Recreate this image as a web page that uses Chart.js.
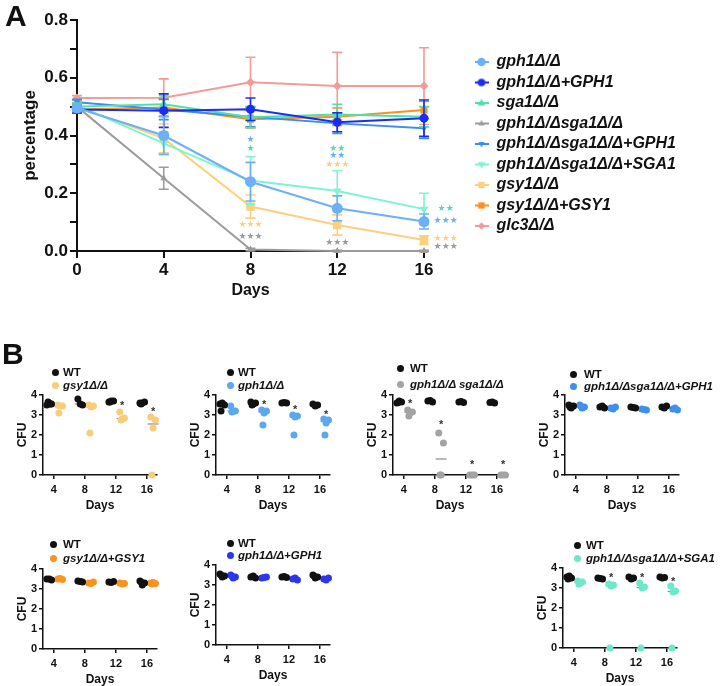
<!DOCTYPE html>
<html>
<head>
<meta charset="utf-8">
<script src="https://cdn.jsdelivr.net/npm/chart.js@4.4.1/dist/chart.umd.min.js"></script>
<style>
  html, body { margin: 0; padding: 0; background: #fff; overflow: hidden; }
  body { position: relative; width: 720px; height: 686px; font-family: "Liberation Sans", Arial, sans-serif; color: #111; }
  canvas { position: absolute; }
  .panel { position: absolute; font-size: 30px; font-weight: bold; line-height: 30px; }
  .key { position: absolute; font-size: 11.5px; font-weight: bold; line-height: 14px; white-space: nowrap; }
  .key.mut { font-style: italic; }
  .dot { position: absolute; width: 7px; height: 7px; border-radius: 50%; }
</style>
</head>
<body>
<canvas id="chartA" width="720" height="305" style="left:0;top:0"></canvas>
<canvas id="b1" width="175" height="135" style="left:0;top:385px"></canvas>
<canvas id="b2" width="175" height="135" style="left:173px;top:385px"></canvas>
<canvas id="b3" width="175" height="135" style="left:350px;top:385px"></canvas>
<canvas id="b4" width="175" height="135" style="left:522px;top:385px"></canvas>
<canvas id="b5" width="175" height="135" style="left:0;top:559px"></canvas>
<canvas id="b6" width="175" height="135" style="left:173px;top:555px"></canvas>
<canvas id="b7" width="175" height="135" style="left:520px;top:558px"></canvas>
<div class="panel" style="left:5px;top:1px">A</div>
<div class="panel" style="left:2px;top:339px">B</div>
<div id="keys"></div>
<script>
Chart.defaults.font.family = '"Liberation Sans", Arial, sans-serif';
Chart.defaults.color = '#111';

// ---- panel A: glycogen percentage over time ----
const days = [0, 4, 8, 12, 16];
const strainLabels = ['gph1Δ/Δ', 'gph1Δ/Δ+GPH1', 'sga1Δ/Δ', 'gph1Δ/Δsga1Δ/Δ', 'gph1Δ/Δsga1Δ/Δ+GPH1',
                      'gph1Δ/Δsga1Δ/Δ+SGA1', 'gsy1Δ/Δ', 'gsy1Δ/Δ+GSY1', 'glc3Δ/Δ'];
const gph1Pct     = [0.495, 0.400, 0.240, 0.148, 0.102];
const gph1Sem     = [0.012, 0.065, 0.067, 0.043, 0.026];
const gph1GPH1Pct = [0.490, 0.486, 0.491, 0.446, 0.460];
const gph1GPH1Sem = [0.012, 0.058, 0.039, 0.033, 0.063];
const sga1Pct     = [0.500, 0.508, 0.463, 0.473, 0.465];
const sga1Sem     = [0.012, 0.030, 0.036, 0.035, 0.035];
const dblPct      = [0.500, 0.252, 0.005, 0.000, 0.000];
const dblSem      = [0.010, 0.038, 0.004, 0.002, 0.002];
const dblGPH1Pct  = [0.515, 0.490, 0.465, 0.442, 0.425];
const dblGPH1Sem  = [0.010, 0.035, 0.035, 0.035, 0.035];
const dblSGA1Pct  = [0.505, 0.373, 0.244, 0.208, 0.145];
const dblSGA1Sem  = [0.010, 0.040, 0.083, 0.070, 0.055];
const gsy1Pct     = [0.500, 0.390, 0.154, 0.090, 0.038];
const gsy1Sem     = [0.010, 0.050, 0.040, 0.035, 0.015];
const gsy1GSY1Pct = [0.490, 0.497, 0.456, 0.465, 0.488];
const gsy1GSY1Sem = [0.012, 0.030, 0.030, 0.030, 0.030];
const glc3Pct     = [0.530, 0.531, 0.584, 0.571, 0.571];
const glc3Sem     = [0.008, 0.065, 0.087, 0.117, 0.133];

// significance marks: day, value, text, series index (for colour)
const sigA = [
  [8, 0.384, '★', 0], [8, 0.353, '★', 2], [8, 0.090, '★★★', 6], [8, 0.048, '★★★', 3],
  [12, 0.353, '★★', 2], [12, 0.329, '★★', 0], [12, 0.300, '★★★', 6], [12, 0.028, '★★★', 3],
  [17, 0.145, '★★', 2], [17, 0.104, '★★★', 0], [17, 0.042, '★★★', 6], [17, 0.014, '★★★', 3],
];

const seriesA = [
  [gph1Pct, gph1Sem], [gph1GPH1Pct, gph1GPH1Sem], [sga1Pct, sga1Sem], [dblPct, dblSem],
  [dblGPH1Pct, dblGPH1Sem], [dblSGA1Pct, dblSGA1Sem], [gsy1Pct, gsy1Sem],
  [gsy1GSY1Pct, gsy1GSY1Sem], [glc3Pct, glc3Sem],
];
const seriesStyle = [
  { color: '#6cb0f5', point: 'circle',   radius: 5.5, rot: 0 },
  { color: '#1b2df2', point: 'circle',   radius: 4.5, rot: 0 },
  { color: '#4ee0a9', point: 'triangle', radius: 5,   rot: 0 },
  { color: '#9b9b9b', point: 'triangle', radius: 4,   rot: 0 },
  { color: '#3b8ef0', point: 'triangle', radius: 4,   rot: 180 },
  { color: '#7ff3d3', point: 'triangle', radius: 5,   rot: 180 },
  { color: '#fbd07f', point: 'rect',     radius: 6,   rot: 0 },
  { color: '#f7921d', point: 'rect',     radius: 5,   rot: 0 },
  { color: '#f49b98', point: 'rectRot',  radius: 4.5, rot: 0 },
];

// ---- panel B: CFU per replicate ----
const bDays = [4, 8, 12, 16];
const wtGsy1      = [[3.5, 3.55, 3.6, 3.65, 3.55], [3.8, 3.5, 3.55], [3.65, 3.7, 3.7, 3.65], [3.6, 3.65, 3.6, 3.55]];
const gsy1Cfu     = [[3.5, 3.45, 3.45, 3.1], [3.5, 3.45, 3.4, 2.1], [3.15, 2.85, 2.8, 2.75], [2.9, 2.75, 2.35, 0]];
const wtGph1      = [[3.55, 3.5, 3.6, 3.2], [3.65, 3.6, 3.55, 3.5], [3.6, 3.6, 3.62], [3.55, 3.5, 3.45]];
const gph1Cfu     = [[3.45, 3.2, 3.2, 3.15], [3.25, 3.2, 3.1, 2.5], [3.0, 2.95, 2.9, 2.0], [2.8, 2.75, 2.6, 2.0]];
const wtDbl       = [[3.6, 3.65, 3.7, 3.62], [3.7, 3.65, 3.72], [3.65, 3.62, 3.68], [3.62, 3.6, 3.65]];
const dblCfu      = [[3.25, 3.15, 3.1, 2.95], [2.1, 1.6, 0, 0], [0, 0, 0], [0, 0, 0]];
const wtDblGPH1   = [[3.5, 3.45, 3.35, 3.4], [3.4, 3.35, 3.45], [3.4, 3.35, 3.38], [3.4, 3.45, 3.35]];
const dblGPH1Cfu  = [[3.5, 3.4, 3.35, 3.45], [3.35, 3.4, 3.3], [3.3, 3.25, 3.28], [3.3, 3.25, 3.35]];
const wtGsy1GSY1  = [[3.5, 3.45, 3.5], [3.4, 3.35, 3.38], [3.35, 3.38, 3.32], [3.4, 3.3, 3.2, 3.35]];
const gsy1GSY1Cfu = [[3.5, 3.48, 3.52], [3.3, 3.35, 3.28], [3.3, 3.28, 3.25], [3.3, 3.28, 3.32, 3.25]];
const wtGph1GPH1  = [[3.55, 3.45, 3.4, 3.5], [3.4, 3.35, 3.45], [3.4, 3.38, 3.42], [3.5, 3.4, 3.35, 3.45]];
const gph1GPH1Cfu = [[3.5, 3.4, 3.35, 3.45], [3.35, 3.4, 3.38], [3.3, 3.25, 3.35], [3.3, 3.35, 3.25]];
const wtDblSGA1   = [[3.55, 3.5, 3.6, 3.45], [3.5, 3.45, 3.48], [3.55, 3.5, 3.45], [3.55, 3.52, 3.5]];
const dblSGA1Cfu  = [[3.35, 3.3, 3.25, 3.2], [3.2, 3.15, 3.1, 0], [3.25, 3.05, 3.0, 0], [3.1, 2.85, 2.8, 0]];
// asterisks above mutant columns: [day, value]
const starsGsy1 = [[12, 3.57], [16, 3.27]];
const starsGph1 = [[8, 3.65], [12, 3.4], [16, 3.15]];
const starsDbl  = [[4, 3.7], [8, 2.62], [12, 0.65], [16, 0.65]];
const starsDblSGA1 = [[8, 3.62], [12, 3.62], [16, 3.42]];

const WT_SHIFT = -0.6, MUT_SHIFT = 0.8;
const JITTER = [-0.3, 0.3, 0, -0.15, 0.15];

// ---- helpers / plugins ----
function drawShape(ctx, style, r, x, y, rot) {
  ctx.beginPath();
  if (style === 'circle') {
    ctx.arc(x, y, r, 0, Math.PI * 2);
  } else if (style === 'triangle') {
    const s = rot ? -1 : 1;
    ctx.moveTo(x, y - s * r);
    ctx.lineTo(x + r * 0.9, y + s * r * 0.6);
    ctx.lineTo(x - r * 0.9, y + s * r * 0.6);
    ctx.closePath();
  } else if (style === 'rect') {
    ctx.rect(x - r * 0.75, y - r * 0.75, r * 1.5, r * 1.5);
  } else {
    ctx.moveTo(x, y - r); ctx.lineTo(x + r, y); ctx.lineTo(x, y + r); ctx.lineTo(x - r, y);
    ctx.closePath();
  }
  ctx.fill();
}

function legendIcon(st) {
  const c = document.createElement('canvas');
  c.width = 14; c.height = 12;
  const ctx = c.getContext('2d');
  ctx.strokeStyle = st.color; ctx.fillStyle = st.color; ctx.lineWidth = 2;
  ctx.beginPath(); ctx.moveTo(0, 6); ctx.lineTo(14, 6); ctx.stroke();
  drawShape(ctx, st.point, Math.min(st.radius, 5) * 0.85, 7, 6, st.rot);
  return c;
}
const legendIcons = seriesStyle.map(legendIcon);

const errorBars = {
  id: 'errorBars',
  beforeDatasetDraw(chart, args) {
    const ds = chart.data.datasets[args.index];
    if (!ds.errors) return;
    const { ctx, scales: { y } } = chart;
    ctx.save();
    ctx.strokeStyle = ds.borderColor;
    ctx.lineWidth = 1.6;
    args.meta.data.forEach((pt, i) => {
      const v = ds.data[i].y, e = ds.errors[i];
      const top = y.getPixelForValue(v + e), bot = y.getPixelForValue(v - e);
      ctx.beginPath();
      ctx.moveTo(pt.x, top); ctx.lineTo(pt.x, bot);
      ctx.moveTo(pt.x - 5, top); ctx.lineTo(pt.x + 5, top);
      ctx.moveTo(pt.x - 5, bot); ctx.lineTo(pt.x + 5, bot);
      ctx.stroke();
    });
    ctx.restore();
  }
};

// fixed legend width, then nudge the legend block into place
function placeLegend(width, dx, dy) {
  return {
    id: 'placeLegend',
    beforeLayout(chart) {
      const lg = chart.legend;
      if (!lg || lg._fixed) return;
      const fit = lg.fit;
      lg.fit = function () { fit.call(this); this.width = width; };
      lg._fixed = true;
    },
    afterLayout(chart) {
      const lg = chart.legend;
      lg.left += dx; lg.right += dx; lg.top += dy; lg.bottom += dy;
    }
  };
}

function textMarks(marks, font, colorOf, dy) {
  return {
    id: 'textMarks',
    afterDatasetsDraw(chart) {
      const { ctx, scales: { x, y } } = chart;
      ctx.save();
      ctx.font = font;
      ctx.textAlign = 'center';
      ctx.textBaseline = 'middle';
      marks.forEach(m => {
        ctx.fillStyle = colorOf(m);
        ctx.fillText(m[2], x.getPixelForValue(m[0]), y.getPixelForValue(m[1]) + dy);
      });
      ctx.restore();
    }
  };
}

const medianLines = {
  id: 'medianLines',
  beforeDatasetsDraw(chart) {
    const { ctx, scales: { x, y } } = chart;
    ctx.save();
    ctx.strokeStyle = '#8a8a8a';
    ctx.lineWidth = 1.2;
    chart.data.datasets.forEach(ds => ds.reps.forEach((vals, d) => {
      const s = [...vals].sort((a, b) => a - b), n = s.length;
      const med = n % 2 ? s[(n - 1) / 2] : (s[n / 2 - 1] + s[n / 2]) / 2;
      const c = bDays[d] + ds.shift, py = y.getPixelForValue(med);
      ctx.beginPath();
      ctx.moveTo(x.getPixelForValue(c - 0.7), py);
      ctx.lineTo(x.getPixelForValue(c + 0.7), py);
      ctx.stroke();
    }));
    ctx.restore();
  }
};

// ---- panel A chart ----
new Chart(document.getElementById('chartA'), {
  type: 'line',
  data: {
    datasets: seriesA.map(([pct, sem], i) => ({
      label: strainLabels[i],
      data: days.map((d, j) => ({ x: d, y: pct[j] })),
      errors: sem,
      borderColor: seriesStyle[i].color,
      backgroundColor: seriesStyle[i].color,
      pointBackgroundColor: seriesStyle[i].color,
      pointBorderColor: seriesStyle[i].color,
      pointBorderWidth: 0,
      pointStyle: seriesStyle[i].point,
      pointRadius: seriesStyle[i].radius,
      pointRotation: seriesStyle[i].rot,
      borderWidth: 2,
      tension: 0,
      clip: 10,
    })),
  },
  options: {
    responsive: false,
    animation: false,
    layout: { padding: { top: 20, left: 10, right: 0, bottom: 0 } },
    plugins: {
      tooltip: { enabled: false },
      legend: {
        position: 'right',
        align: 'start',
        labels: {
          usePointStyle: true,
          pointStyleWidth: 14,
          padding: 4.5,
          color: '#111',
          font: { size: 16, weight: 'bold', style: 'italic' },
          generateLabels: chart => chart.data.datasets.map((ds, i) => ({
            text: ds.label, datasetIndex: i, hidden: false, lineWidth: 0,
            fillStyle: ds.borderColor, strokeStyle: ds.borderColor,
            pointStyle: legendIcons[i], fontColor: '#111',
          })),
        },
      },
    },
    scales: {
      x: {
        type: 'linear', min: 0, max: 16,
        border: { display: true, color: '#111', width: 2 },
        grid: { display: true, drawOnChartArea: false, drawTicks: true, tickLength: 7, color: '#111', lineWidth: 2 },
        ticks: { stepSize: 4, padding: 2, color: '#111', font: { size: 17, weight: 'bold' } },
        title: { display: true, text: 'Days', color: '#111', font: { size: 16, weight: 'bold' }, padding: { top: 0, bottom: 5 } },
        afterFit: s => { s.height = 54; },
      },
      y: {
        min: 0, max: 0.8,
        border: { display: true, color: '#111', width: 2 },
        grid: { display: true, drawOnChartArea: false, drawTicks: true, tickLength: 7, color: '#111', lineWidth: 2 },
        ticks: {
          stepSize: 0.1, padding: 2, color: '#111', font: { size: 17, weight: 'bold' },
          callback: v => (Math.round(v * 10) % 2 === 0 ? v.toFixed(1) : ''),
        },
        title: { display: true, text: 'percentage', color: '#111', font: { size: 17, weight: 'bold' }, padding: { top: 10, bottom: 0 } },
        afterFit: s => { s.width = 67; },
      },
    },
  },
  plugins: [errorBars, placeLegend(296, 46, 29.5),
            textMarks(sigA, '9px "DejaVu Sans"', m => seriesStyle[m[3]].color, 0)],
});

// ---- panel B charts ----
function toPoints(reps, shift) {
  const pts = [];
  reps.forEach((vals, d) => vals.forEach((v, j) => {
    pts.push({ x: bDays[d] + shift + JITTER[j % JITTER.length], y: v });
  }));
  return pts;
}

function cfuChart(id, wtReps, mutReps, mutColor, stars) {
  const dot = (reps, shift, color) => ({
    data: toPoints(reps, shift), reps, shift,
    pointBackgroundColor: color, pointBorderColor: color,
    pointRadius: 3.5, pointBorderWidth: 0, showLine: false, clip: 6,
  });
  const axis = { display: true, color: '#111', width: 1.5 };
  const ticksGrid = { display: true, drawOnChartArea: false, drawTicks: true, tickLength: 4, color: '#111', lineWidth: 1.5 };
  return new Chart(document.getElementById(id), {
    type: 'scatter',
    data: { datasets: [dot(wtReps, WT_SHIFT, '#111'), dot(mutReps, MUT_SHIFT, mutColor)] },
    options: {
      responsive: false,
      animation: false,
      layout: { padding: { top: 10, left: 0, right: 18, bottom: 0 } },
      plugins: { legend: { display: false }, tooltip: { enabled: false } },
      scales: {
        x: {
          type: 'linear', min: 2.6, max: 17.3,
          border: axis, grid: ticksGrid,
          afterBuildTicks: s => { s.ticks = bDays.map(v => ({ value: v })); },
          ticks: { padding: 4, color: '#111', font: { size: 11, weight: 'bold' } },
          title: { display: true, text: 'Days', color: '#111', font: { size: 12, weight: 'bold' }, padding: { top: 0, bottom: 7 } },
          afterFit: s => { s.height = 45; },
        },
        y: {
          min: 0, max: 4,
          border: axis, grid: ticksGrid,
          ticks: { stepSize: 1, padding: 2, color: '#111', font: { size: 11, weight: 'bold' } },
          title: { display: true, text: 'CFU', color: '#111', font: { size: 12, weight: 'bold' }, padding: { top: 15, bottom: 0 } },
          afterFit: s => { s.width = 43; },
        },
      },
    },
    plugins: [medianLines,
              textMarks(stars.map(s => [s[0] + MUT_SHIFT, s[1], '*']), 'bold 11px "Liberation Sans"', () => '#333', 2.5)],
  });
}

const bColors = {
  gsy1: '#f8cd7a', gph1: '#5aa8f2', dbl: '#a3a3a3', dblGPH1: '#3d8ff0',
  gsy1GSY1: '#f7931e', gph1GPH1: '#2b35f3', dblSGA1: '#6de8c8',
};
cfuChart('b1', wtGsy1, gsy1Cfu, bColors.gsy1, starsGsy1);
cfuChart('b2', wtGph1, gph1Cfu, bColors.gph1, starsGph1);
cfuChart('b3', wtDbl, dblCfu, bColors.dbl, starsDbl);
cfuChart('b4', wtDblGPH1, dblGPH1Cfu, bColors.dblGPH1, []);
cfuChart('b5', wtGsy1GSY1, gsy1GSY1Cfu, bColors.gsy1GSY1, []);
cfuChart('b6', wtGph1GPH1, gph1GPH1Cfu, bColors.gph1GPH1, []);
cfuChart('b7', wtDblSGA1, dblSGA1Cfu, bColors.dblSGA1, starsDblSGA1);

// keys for panel B: marker x, text x, row y (WT), row y (mutant)
const bKeys = [
  ['gsy1Δ/Δ', bColors.gsy1, 55, 63, 372, 385],
  ['gph1Δ/Δ', bColors.gph1, 230, 238, 372, 385],
  ['gph1Δ/Δ sga1Δ/Δ', bColors.dbl, 400, 410, 368, 384],
  ['gph1Δ/Δsga1Δ/Δ+GPH1', bColors.dblGPH1, 573, 584, 374, 386],
  ['gsy1Δ/Δ+GSY1', bColors.gsy1GSY1, 53, 63, 544, 558],
  ['gph1Δ/Δ+GPH1', bColors.gph1GPH1, 230, 238, 543, 555],
  ['gph1Δ/Δsga1Δ/Δ+SGA1', bColors.dblSGA1, 577, 586, 545, 558],
];
const keys = document.getElementById('keys');
bKeys.forEach(([label, color, mx, tx, y1, y2]) => {
  [['WT', '#111', y1, ''], [label, color, y2, ' mut']].forEach(([t, c, y, cls]) => {
    const d = document.createElement('div');
    d.className = 'dot';
    d.style.cssText = `left:${mx - 3.5}px;top:${y - 3.5}px;background:${c}`;
    const s = document.createElement('div');
    s.className = 'key' + cls;
    s.style.cssText = `left:${tx}px;top:${y - 7}px`;
    s.textContent = t;
    keys.appendChild(d); keys.appendChild(s);
  });
});
</script>
</body>
</html>
